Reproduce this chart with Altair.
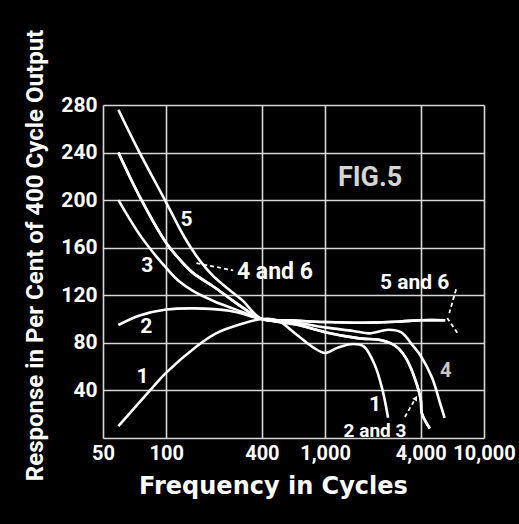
import altair as alt
import pandas as pd

# Frequency response curves (per cent of the 400-cycle output)
freq_1 = [50, 79, 100, 155, 206, 300, 400, 500, 660, 845, 1000, 1200, 1500, 1750, 2060, 2300, 2490]
resp_1 = [10, 40, 55, 77, 88, 96, 100, 99, 87, 76, 71.5, 76, 79, 77, 61, 40, 17]

freq_2 = [50, 68, 100, 150, 250, 400, 680, 1000, 1600, 2300, 2800, 3200, 3650, 4000, 4060, 4560]
resp_2 = [95, 103, 108, 109, 107, 100, 95, 89, 84, 82, 77, 68, 51, 32, 21, 8]

freq_3 = [50, 68, 85, 100, 120, 150, 200, 250, 300, 400, 680, 1000, 1600, 2300, 2800, 3200, 3650, 4000, 4060, 4560]
resp_3 = [200, 171, 154, 143, 132, 123, 115, 110, 106, 100, 95, 89, 84, 82, 77, 68, 51, 32, 21, 8]

freq_4 = [50, 68, 100, 134, 150, 200, 250, 300, 400, 600, 1000, 1500, 1900, 2500, 3000, 3600, 4000, 4700, 5300, 5650]
resp_4 = [240, 203, 164, 144, 138, 127, 117.5, 110, 100, 98, 93, 90, 88, 91, 89, 77, 69, 51, 29, 17]

freq_5 = [50, 65, 100, 130, 155, 180, 200, 250, 300, 400, 600, 1000, 2000, 3000, 4000, 5700]
resp_5 = [276, 245, 198, 169, 153, 142, 135.5, 124.5, 116, 100, 99, 97.5, 97, 98, 99, 99]

freq_6 = [50, 68, 100, 134, 150, 200, 250, 300, 400, 600, 1000, 2000, 3000, 4000, 5700]
resp_6 = [240, 203, 164, 144, 138, 127, 117.5, 110, 100, 99, 97.5, 97, 98, 99, 99]

# Axis ticks
x_ticks = [40, 100, 400, 1000, 4000, 10000]
y_ticks = [0, 40, 80, 120, 160, 200, 240, 280]

# Curve labels
label_text = ["1", "2", "3", "5", "1"]
label_freq = [71, 75, 76, 134, 2060]
label_resp = [51, 93, 145, 183, 28]

# Leader lines (dashed) from labels to curves
lead_f1 = [155, 3177, 6672, 5863]
lead_r1 = [147, 17.7, 125, 101]
lead_f2 = [264, 3720, 6048, 6825]
lead_r2 = [141, 33.6, 105, 88]

rows = []
for name, fs, rs in [("1", freq_1, resp_1), ("2", freq_2, resp_2), ("3", freq_3, resp_3),
                     ("4", freq_4, resp_4), ("5", freq_5, resp_5), ("6", freq_6, resp_6)]:
    for f, r in zip(fs, rs):
        rows.append({"curve": name, "freq": f, "resp": r})
curves = pd.DataFrame(rows)

FONT = "Roboto"

x_scale = alt.Scale(type="log", domain=[40, 10000], nice=False)
y_scale = alt.Scale(domain=[0, 280], nice=False)

x_axis = alt.Axis(
    values=x_ticks, title="Frequency in Cycles",
    labelExpr="datum.value == 40 ? '50' : format(datum.value, ',')",
    labelFlush=False, labelOverlap=False, labelBound=False,
    labelPadding=5, labelFontSize=20,
    titleX=170, titleY=55, titleBaseline="alphabetic", titleAlign="center",
    titleFontSize=24, titleFont="DejaVu Sans",
)
y_axis = alt.Axis(
    values=y_ticks, title="Response in Per Cent of 400 Cycle Output",
    labelExpr="datum.value == 0 ? '' : datum.label",
    labelPadding=6, labelFontSize=21,
    titleX=-68, titleY=150, titleAlign="center", titleBaseline="middle", titleAngle=-90,
    titleFontSize=24,
)


def text_layer(texts, freqs, resps, size, color="white"):
    df = pd.DataFrame({"t": texts, "f": freqs, "r": resps})
    return alt.Chart(df).mark_text(
        color=color, font=FONT, fontWeight="bold", fontSize=size, baseline="middle", align="center"
    ).encode(x=alt.X("f:Q", scale=x_scale), y=alt.Y("r:Q", scale=y_scale), text="t:N")


lines = alt.Chart(curves).mark_line(color="white", strokeWidth=2.6, interpolate="catmull-rom").encode(
    x=alt.X("freq:Q", scale=x_scale, axis=x_axis),
    y=alt.Y("resp:Q", scale=y_scale, axis=y_axis),
    detail="curve:N",
)

labels = text_layer(label_text, label_freq, label_resp, 21)
label_46 = text_layer(["4 and 6"], [483], [140], 23)
label_56 = text_layer(["5 and 6"], [3665], [130], 21)
label_23 = text_layer(["2 and 3"], [2060], [6], 19)
label_4 = text_layer(["4"], [5744], [56], 20, color="#c8c8c8")
fig = text_layer(["FIG.5"], [1920], [219], 27, color="#d4d4d4")

leaders = alt.Chart(pd.DataFrame({"f1": lead_f1, "r1": lead_r1, "f2": lead_f2, "r2": lead_r2})).mark_rule(
    color="white", strokeWidth=1.8, strokeDash=[4, 3]
).encode(
    x=alt.X("f1:Q", scale=x_scale), y=alt.Y("r1:Q", scale=y_scale),
    x2="f2:Q", y2="r2:Q",
)

arrow_head = alt.Chart(pd.DataFrame({"f": [3720], "r": [33.6]})).mark_point(
    shape="triangle-up", filled=True, color="white", size=30, angle=30, opacity=1
).encode(x=alt.X("f:Q", scale=x_scale), y=alt.Y("r:Q", scale=y_scale))

chart = alt.layer(lines, leaders, arrow_head, labels, label_46, label_56, label_23, label_4, fig).properties(
    width=381, height=333,
    padding={"left": 103, "top": 105, "right": 35, "bottom": 86},
    autosize=alt.AutoSizeParams(type="none"),
    background="black",
).configure_view(stroke=None).configure_axis(
    grid=True, gridColor="#d8d8d8", gridWidth=1.6, gridOpacity=1,
    domain=False, ticks=False,
    labelColor="white", labelFont=FONT, labelFontWeight="bold",
    titleColor="white", titleFont=FONT, titleFontWeight="bold",
)

chart.save("out.html", embed_options={"renderer": "svg", "actions": False})
